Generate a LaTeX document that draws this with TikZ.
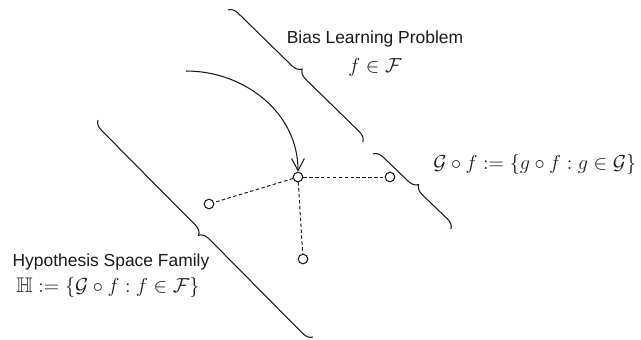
\documentclass[tikz,border=0pt]{standalone}
\usepackage{amsmath,amssymb}
\usepackage{fontspec}
\setsansfont{Liberation Sans}
\usetikzlibrary{arrows.meta,decorations.pathreplacing,positioning}
\definecolor{ink}{HTML}{1A1A1A}
\tikzset{
  bracket/.style={
    draw=ink,
    line width=0.75pt,
    decorate,
    decoration={brace, amplitude=0.24cm}
  },
  hyp/.style={
    circle,
    draw=ink,
    fill=white,
    line width=0.75pt,
    minimum size=0.24cm,
    inner sep=0pt
  },
  link/.style={
    draw=ink,
    line width=0.7pt,
    dash pattern=on 2.4pt off 1.8pt
  },
  flow/.style={
    -{Straight Barb[length=3mm,width=3.2mm]},
    draw=ink,
    line width=0.75pt
  },
  caption/.style={
    text=ink,
    font=\sffamily\fontsize{12.4}{15}\selectfont,
    align=center,
    inner sep=0pt
  },
  formula/.style={
    text=ink,
    font=\fontsize{15}{18}\selectfont,
    inner sep=0pt
  }
}

\begin{document}
\begin{tikzpicture}[x=1cm,y=1cm]
  \useasboundingbox (0,0) rectangle (16.025,8.475);

  % Brace end points
  \coordinate (topA) at (5.70,8.225);
  \coordinate (topB) at (9.075,4.925);
  \coordinate (rightA) at (9.325,4.625);
  \coordinate (rightB) at (11.275,2.75);
  \coordinate (leftA) at (7.825,0.05);
  \coordinate (leftB) at (2.45,5.475);
  \coordinate (start) at (4.65,6.70);

  % Braces
  \draw[bracket] (topA) -- (topB);
  \draw[bracket] (rightA) -- (rightB);
  \draw[bracket] (leftA) -- (leftB);

  % Labels
  \node[caption] (biasTitle) at (9.375,7.50) {Bias Learning Problem};
  \node[formula] (biasSet) at (9.375,6.80) {$f \in \mathcal{F}$};

  \node[formula, anchor=west] (composed) at (10.825,4.375)
    {$\mathcal{G} \circ f := \{g \circ f : g \in \mathcal{G}\}$};

  \node[caption] (familyTitle) at (2.775,1.925) {Hypothesis Space Family};
  \node[formula] (familySet) at (2.70,1.30)
    {$\mathbb{H} := \{\mathcal{G} \circ f : f \in \mathcal{F}\}$};

  % Hypotheses
  \node[hyp] (center) at (7.45,4.05) {};
  \node[hyp] (west) at (5.225,3.375) {};
  \node[hyp] (east) at (9.75,4.05) {};
  \node[hyp] (south) at (7.575,2.00) {};

  \draw[link] (center) -- (west);
  \draw[link] (center) -- (east);
  \draw[link] (center) -- (south);

  % Choice of f
  \draw[flow] (start) to[out=0,in=90] (center);
\end{tikzpicture}
\end{document}
